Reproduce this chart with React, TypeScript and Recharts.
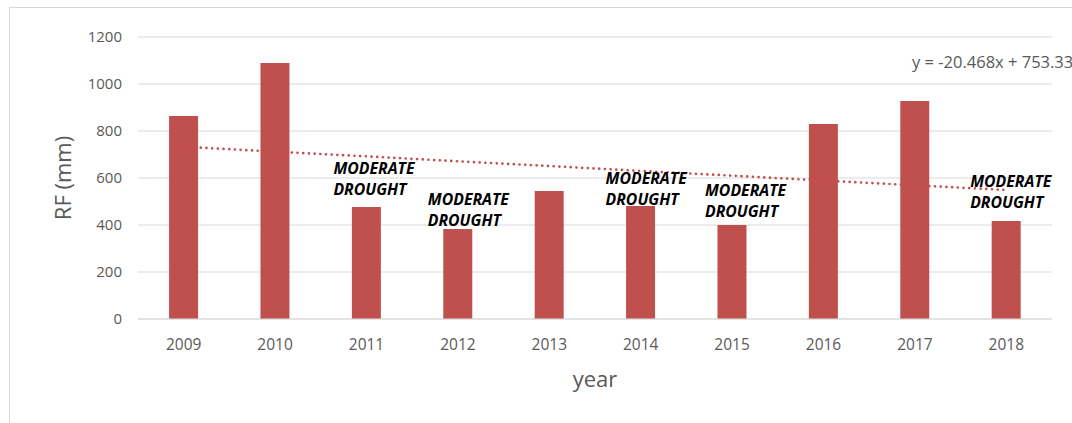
import { ComposedChart, Bar, Line, XAxis, YAxis, CartesianGrid, LabelList } from 'recharts';

const years = ['2009', '2010', '2011', '2012', '2013', '2014', '2015', '2016', '2017', '2018'];
const rainfall = [864, 1089, 477, 383, 545, 481, 400, 830, 928, 417];
// linear trend y = -20.468x + 753.33 read at x = 1..10
const trend = [733, 712, 692, 671, 651, 630, 610, 589, 569, 549];
const droughtYears = ['2011', '2012', '2014', '2015', '2018'];
const yTicks = [0, 200, 400, 600, 800, 1000, 1200];

const data = years.map((y, i) => ({ year: y, rf: rainfall[i], trend: trend[i] }));

// placement of each note relative to its bar (px): lift above bar top, shift from bar centre
const noteLift: Record<string, number> = { '2011': 38, '2012': 29, '2014': 27, '2015': 35, '2018': 40 };
const noteShift: Record<string, number> = { '2011': -33, '2012': -30, '2014': -35, '2015': -27, '2018': -36 };

const RED = '#C0504D';
const GREY = '#595959';
const FONT = '"Open Sans", sans-serif';

const DroughtNote = (props: any) => {
  const { x, y, width, index } = props;
  const yr = years[index];
  if (!droughtYears.includes(yr)) return null;
  const left = x + width / 2 + noteShift[yr];
  const top = y - noteLift[yr];
  const style = { fontFamily: FONT, fontSize: 15.8, fontWeight: 700, fontStyle: 'italic' as const, fill: '#000' };
  return (
    <g>
      <text x={left} y={top + 5.5} style={style}>MODERATE</text>
      <text x={left} y={top + 26.5} style={style}>DROUGHT</text>
    </g>
  );
};

const YLabel = (props: any) => {
  const vb = props.viewBox;
  const cx = vb.x + 24;
  const cy = vb.y + vb.height / 2;
  return (
    <text x={cx} y={cy} transform={`rotate(-90 ${cx} ${cy})`} textAnchor="middle" dominantBaseline="central"
      style={{ fontFamily: FONT, fontSize: 22, fill: GREY }}>RF (mm)</text>
  );
};

export default function App() {
  return (
    <div style={{ position: 'absolute', left: 0, top: 0, width: 1072, height: 423, overflow: 'hidden', background: '#fff' }}>
      <div style={{ position: 'absolute', left: 9, top: 7, width: 1200, height: 600, borderLeft: '1.5px solid #d9d9d9', borderTop: '1.5px solid #d9d9d9' }} />
      <ComposedChart width={1072} height={423} data={data} margin={{ top: 37, right: 20, left: 38, bottom: 24 }} barCategoryGap="34%">
        <CartesianGrid horizontal vertical={false} stroke="#d9d9d9" strokeWidth={1.2} />
        <XAxis
          dataKey="year"
          height={80}
          axisLine={{ stroke: '#d9d9d9', strokeWidth: 1.2 }}
          tickLine={false}
          tickMargin={14}
          tick={{ fill: GREY, fontSize: 15.5, fontFamily: FONT }}
          label={{ value: 'year', position: 'insideBottom', offset: 12, style: { fill: GREY, fontSize: 22, fontFamily: FONT } }}
        />
        <YAxis
          width={100}
          domain={[0, 1200]}
          ticks={yTicks}
          axisLine={false}
          tickLine={false}
          tickMargin={10}
          tick={{ fill: GREY, fontSize: 15, fontFamily: FONT }}
          label={<YLabel />}
        />
        <Bar dataKey="rf" fill={RED} isAnimationActive={false}>
          <LabelList dataKey="rf" content={<DroughtNote />} />
        </Bar>
        <Line dataKey="trend" type="linear" stroke={RED} strokeWidth={2.7} strokeDasharray="0 5.7" strokeLinecap="round" dot={false} activeDot={false} isAnimationActive={false} />
      </ComposedChart>
      <div style={{ position: 'absolute', left: 912, top: 50, fontFamily: FONT, fontSize: 16.5, color: GREY, whiteSpace: 'nowrap' }}>
        y = -20.468x + 753.33
      </div>
    </div>
  );
}
